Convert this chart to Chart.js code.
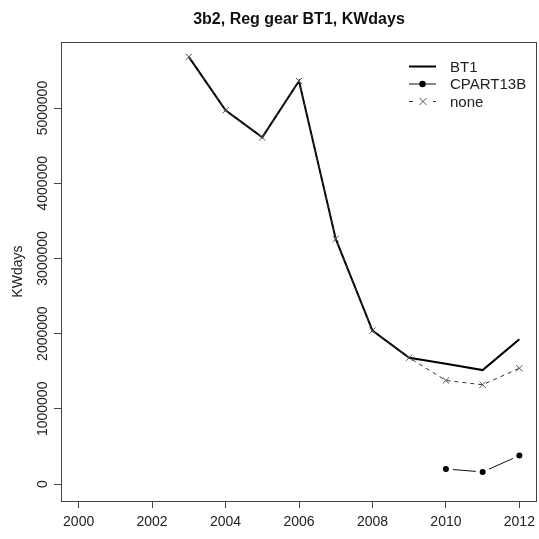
<!DOCTYPE html>
<html lang="en">
<head>
    <meta charset="UTF-8">
    <title>3b2, Reg gear BT1, KWdays</title>
    <style>
body {
    margin: 0;
    padding: 0;
    background-color: #fff;
}

#chart-box {
    width: 539px;
    height: 539px;
}
    </style>
</head>
<body>
    <div id="chart-box">
        <canvas id="kwChart" width="539" height="539"></canvas>
    </div>

    <script src="https://cdn.jsdelivr.net/npm/chart.js"></script>
    <script>
        // Values
        const years = [2003, 2004, 2005, 2006, 2007, 2008, 2009, 2010, 2011, 2012];
        const bt1 = [5680000, 4970000, 4610000, 5360000, 3260000, 2040000, 1680000, 1600000, 1515000, 1925000];
        const cpart13b = [null, null, null, null, null, null, null, 200000, 160000, 378000];
        const noneKW = [5680000, 4970000, 4610000, 5360000, 3260000, 2040000, 1680000, 1377000, 1320000, 1540000];

        const xTicks = [2000, 2002, 2004, 2006, 2008, 2010, 2012];
        const yTicks = [0, 1000000, 2000000, 3000000, 4000000, 5000000];

        const FONT = '"Liberation Sans", Arial, sans-serif';

        function toPoints(values) {
            return years.map((x, i) => ({ x: x, y: values[i] }));
        }

        // Box round the plot, tick labels (y ones turned) and the legend, R style
        const rStylePlugin = {
            id: 'rStyle',
            afterDraw(chart) {
                const ctx = chart.ctx;
                const area = chart.chartArea;
                const xScale = chart.scales.x;
                const yScale = chart.scales.y;

                ctx.save();
                ctx.strokeStyle = '#444';
                ctx.lineWidth = 1;
                ctx.strokeRect(Math.round(area.left) + 0.5, Math.round(area.top) + 0.5,
                    Math.round(area.right - area.left) - 1, Math.round(area.bottom - area.top));

                ctx.fillStyle = '#222';
                ctx.font = '14px ' + FONT;
                ctx.textAlign = 'center';
                ctx.textBaseline = 'middle';

                // x tick labels
                xTicks.forEach(v => {
                    ctx.fillText(String(v), xScale.getPixelForValue(v), area.bottom + 21);
                });

                // y tick labels, turned like in R
                yTicks.forEach(v => {
                    const py = yScale.getPixelForValue(v);
                    ctx.save();
                    ctx.translate(43, py);
                    ctx.rotate(-Math.PI / 2);
                    ctx.fillText(String(v), 0, 0);
                    ctx.restore();
                });

                // legend
                const rows = [66.5, 84, 101.5];
                ctx.font = '15px ' + FONT;
                ctx.textAlign = 'left';
                chart.data.datasets.forEach((ds, i) => {
                    const y = rows[i];
                    ctx.strokeStyle = ds.borderColor;
                    ctx.lineWidth = ds.borderWidth;
                    ctx.setLineDash(ds.borderDash || []);
                    ctx.beginPath();
                    ctx.moveTo(409, y);
                    ctx.lineTo(436, y);
                    ctx.stroke();
                    ctx.setLineDash([]);
                    if (ds.pointRadius > 0) {
                        ctx.lineWidth = 1;
                        if (ds.pointStyle === 'crossRot') {
                            ctx.strokeStyle = ds.pointBorderColor;
                            ctx.fillStyle = '#fff';
                            ctx.fillRect(416, y - 4, 13, 8);
                            ctx.beginPath();
                            ctx.moveTo(419.5, y - 3.5); ctx.lineTo(426.5, y + 3.5);
                            ctx.moveTo(426.5, y - 3.5); ctx.lineTo(419.5, y + 3.5);
                            ctx.stroke();
                        } else {
                            ctx.fillStyle = ds.pointBackgroundColor;
                            ctx.beginPath();
                            ctx.arc(422.5, y, 3.2, 0, Math.PI * 2);
                            ctx.fill();
                        }
                    }
                    ctx.fillStyle = '#222';
                    ctx.fillText(ds.label, 450, y + 1);
                });
                ctx.restore();
            }
        };

        const kwChart = new Chart(document.getElementById('kwChart').getContext('2d'), {
            type: 'line',
            data: {
                datasets: [
                    {
                        label: 'BT1',
                        data: toPoints(bt1),
                        borderColor: '#000',
                        borderWidth: 2,
                        pointRadius: 0,
                        fill: false,
                        tension: 0,
                        order: 1
                    },
                    {
                        label: 'CPART13B',
                        data: toPoints(cpart13b),
                        borderColor: '#111',
                        borderWidth: 1,
                        pointStyle: 'circle',
                        // white rim leaves the little gap R draws for type "b"
                        pointRadius: 5,
                        pointBackgroundColor: '#000',
                        pointBorderColor: '#fff',
                        pointBorderWidth: 4,
                        fill: false,
                        tension: 0,
                        spanGaps: false,
                        order: 2
                    },
                    {
                        label: 'none',
                        data: toPoints(noneKW),
                        borderColor: '#333',
                        borderWidth: 1,
                        borderDash: [4, 4],
                        pointStyle: 'crossRot',
                        pointRadius: 4.5,
                        pointBorderColor: '#555',
                        pointBackgroundColor: '#555',
                        pointBorderWidth: 1,
                        fill: false,
                        tension: 0,
                        order: 0
                    }
                ]
            },
            options: {
                responsive: false,
                animation: false,
                layout: {
                    autoPadding: false,
                    padding: { left: 0, right: 2, top: 0, bottom: 0 }
                },
                plugins: {
                    legend: { display: false },
                    tooltip: { enabled: false },
                    title: {
                        display: true,
                        fullSize: false,
                        text: '3b2, Reg gear BT1, KWdays',
                        color: '#111',
                        font: { family: FONT, size: 16, weight: 'bold' },
                        padding: { top: 10, bottom: 13 }
                    }
                },
                scales: {
                    x: {
                        type: 'linear',
                        min: 1999.52,
                        max: 2012.48,
                        afterBuildTicks: scale => {
                            scale.ticks = xTicks.map(v => ({ value: v }));
                        },
                        afterFit: scale => {
                            scale.height = 38;
                        },
                        ticks: { display: false },
                        grid: {
                            drawOnChartArea: false,
                            drawTicks: true,
                            tickLength: 7,
                            color: '#444'
                        },
                        border: { display: false }
                    },
                    y: {
                        type: 'linear',
                        min: -226000,
                        max: 5876000,
                        afterBuildTicks: scale => {
                            scale.ticks = yTicks.map(v => ({ value: v }));
                        },
                        afterFit: scale => {
                            scale.width = 61;
                        },
                        ticks: { display: false },
                        grid: {
                            drawOnChartArea: false,
                            drawTicks: true,
                            tickLength: 7,
                            color: '#444'
                        },
                        border: { display: false },
                        title: {
                            display: true,
                            text: 'KWdays',
                            color: '#222',
                            font: { family: FONT, size: 14 },
                            padding: { top: 10, bottom: 0 }
                        }
                    }
                }
            },
            plugins: [rStylePlugin]
        });
    </script>
</body>
</html>
